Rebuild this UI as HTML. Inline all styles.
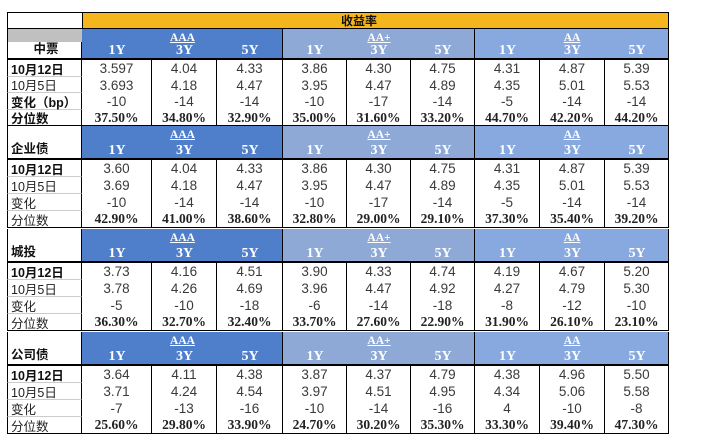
<!DOCTYPE html>
<html><head><meta charset="utf-8">
<style>
body{margin:0;width:701px;height:442px;background:#fff;position:relative;overflow:hidden;font-family:"Liberation Sans","Noto Sans CJK SC",sans-serif;}
.c{position:absolute;box-sizing:border-box;display:flex;align-items:center;justify-content:center;font-size:13.5px;color:#3a3a3a;}
.lab{justify-content:flex-start;padding-left:3px;color:#222;font-size:12.5px;}
.b{font-weight:bold;color:#111;}
.pct{font-family:"Liberation Serif",serif;font-weight:bold;font-size:13.5px;color:#222;}
.hd{color:#fff;font-family:"Liberation Serif",serif;font-weight:bold;font-size:13px;}
</style></head><body>
<script>
const sections=["中票","企业债","城投","公司债"];
const groups=["AAA","AA+","AA"];
const tenors=["1Y","3Y","5Y"];
const rowLabels=["10月12日","10月5日","变化","分位数"];
const cur=[["3.597","4.04","4.33","3.86","4.30","4.75","4.31","4.87","5.39"],["3.60","4.04","4.33","3.86","4.30","4.75","4.31","4.87","5.39"],["3.73","4.16","4.51","3.90","4.33","4.74","4.19","4.67","5.20"],["3.64","4.11","4.38","3.87","4.37","4.79","4.38","4.96","5.50"]];
const prev=[["3.693","4.18","4.47","3.95","4.47","4.89","4.35","5.01","5.53"],["3.69","4.18","4.47","3.95","4.47","4.89","4.35","5.01","5.53"],["3.78","4.26","4.69","3.96","4.47","4.92","4.27","4.79","5.30"],["3.71","4.24","4.54","3.97","4.51","4.95","4.34","5.06","5.58"]];
const chg=[["-10","-14","-14","-10","-17","-14","-5","-14","-14"],["-10","-14","-14","-10","-17","-14","-5","-14","-14"],["-5","-10","-18","-6","-14","-18","-8","-12","-10"],["-7","-13","-16","-10","-14","-16","4","-10","-8"]];
const pct=[["37.50%","34.80%","32.90%","35.00%","31.60%","33.20%","44.70%","42.20%","44.20%"],["42.90%","41.00%","38.60%","32.80%","29.00%","29.10%","37.30%","35.40%","39.20%"],["36.30%","32.70%","32.40%","33.70%","27.60%","22.90%","31.90%","26.10%","23.10%"],["25.60%","29.80%","33.90%","24.70%","30.20%","35.30%","33.30%","39.40%","47.30%"]];
const colX=[82,152,217,283,347,411,475,540,605,669];
const gColors=["#4f7fcb","#8ea9d6","#87a9df"];
const L=7;
function cell(x,y,w,h,txt,cls,style,name){
  const d=document.createElement('div');
  d.className='c '+(cls||'');
  d.style.cssText=`left:${x}px;top:${y}px;width:${w}px;height:${h}px;`+(style||'');
  d.textContent=txt;
  
  
  document.body.appendChild(d);return d;
}
cell(L,12,75,17,"","","border:1px solid #000;border-right:none;","top-left-blank");
cell(82,12,587,17,"收益率","b","background:#f5b61d;border:1px solid #000;justify-content:flex-start;padding-left:258px;font-size:12px;","yield-title");
const tops=[29,126,229,332];
const rowH=[16.5,17,17,17];
for(let s=0;s<4;s++){
  const y0=tops[s], hh=s==0?31:34, rh=rowH[s];
  if(s==0) cell(L,y0,75,13,"","","background:#c0c0c0;border-left:1px solid #000;","gray-cell");
  cell(L,y0+(s==0?13:0),75,hh-(s==0?13:0),sections[s],"b lab",`align-items:flex-end;padding-bottom:1px;border-left:1px solid #000;border-right:1px solid #000;${s==0?'justify-content:center;':''}border-bottom:2px solid #000;`,"section-label-"+s);
  for(let g=0;g<3;g++){
    const gx=colX[g*3], gw=colX[g*3+3]-gx;
    cell(gx,y0,gw,hh,"","",`background:${gColors[g]};border-right:1px solid #000;border-bottom:2px solid #000;`,"group-bg-"+groups[g]);
    cell(gx,y0+1,gw,15,groups[g],"hd","text-decoration:underline;font-size:11.5px;","group-label-"+groups[g]);
    for(let t=0;t<3;t++){
      const i=g*3+t;
      cell(colX[i],y0+hh-17,colX[i+1]-colX[i],16,tenors[t],"hd","font-size:14px;","tenor-"+tenors[t]);
    }
  }
  const rows=[cur[s],prev[s],chg[s],pct[s]];
  for(let r=0;r<4;r++){
    const y=Math.round(y0+hh+r*rh);
    const h=Math.round(y0+hh+(r+1)*rh)-y;
    let lab=rowLabels[r]; if(s==0&&r==2) lab="变化（bp）";
    const bold=(r==0||(s==0&&r!=1));
    cell(L,y,75,h,lab,"lab"+(bold?" b":""),`border-left:1px solid #000;border-right:1px solid #000;border-bottom:1px solid ${r==3?'#000':'#ccc'};`,"row-label");
    for(let i=0;i<9;i++){
      cell(colX[i],y,colX[i+1]-colX[i],h,rows[r][i],r==3?"pct":"",`border-right:1px solid #000;${r==3?'border-bottom:1px solid #000;':''}`,"value-cell");
    }
  }
}
</script>
</body></html>
